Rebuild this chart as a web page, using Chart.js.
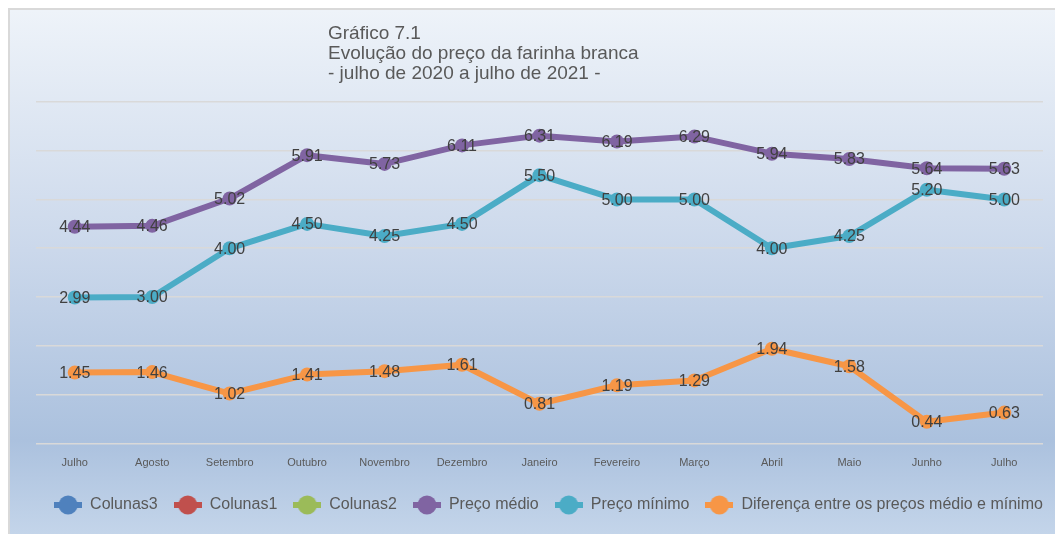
<!DOCTYPE html>
<html><head><meta charset="utf-8">
<script src="https://cdn.jsdelivr.net/npm/chart.js@4"></script>
<style>
html,body{margin:0;padding:0;background:#fff;}
#wrap{position:relative;width:1055px;height:534px;overflow:hidden;}
#frame{position:absolute;left:8px;top:8px;width:1060px;height:540px;border-left:2px solid #d9d9d9;border-top:2px solid #d9d9d9;
  background:linear-gradient(to bottom,#eef3f9 0px,#cbd8eb 240px,#abc1de 430px,#c4d5ea 526px);}
#cw{position:absolute;left:0;top:0;width:1055px;height:534px;}
#title{position:absolute;left:328px;top:23px;font:19px/20px "Liberation Sans",Arial,sans-serif;color:#595959;white-space:nowrap;}
</style></head>
<body>
<div id="wrap">
  <div id="frame"></div>
  <div id="cw"><canvas id="c"></canvas></div>
  <div id="title">Gráfico 7.1<br>Evolução do preço da farinha branca<br>- julho de 2020 a julho de 2021 -</div>
</div>
<script>
const categories = ['Julho','Agosto','Setembro','Outubro','Novembro','Dezembro','Janeiro','Fevereiro','Março','Abril','Maio','Junho','Julho'];
const precoMedio = [4.44,4.46,5.02,5.91,5.73,6.11,6.31,6.19,6.29,5.94,5.83,5.64,5.63];
const precoMinimo = [2.99,3.00,4.00,4.50,4.25,4.50,5.50,5.00,5.00,4.00,4.25,5.20,5.00];
const diferenca = [1.45,1.46,1.02,1.41,1.48,1.61,0.81,1.19,1.29,1.94,1.58,0.44,0.63];
const seriesNames = ['Colunas3','Colunas1','Colunas2','Preço médio','Preço mínimo','Diferença entre os preços médio e mínimo'];
const seriesColors = ['#4F81BD','#C0504D','#9BBB59','#8064A2','#4BACC6','#F79646'];
const yTicks = [0,1,2,3,4,5,6,7];

const FONT = '"Liberation Sans", Arial, sans-serif';

function makeIcon(color){
  const c = document.createElement('canvas');
  c.width = 28; c.height = 20;
  const g = c.getContext('2d');
  g.fillStyle = color;
  g.fillRect(0, 7, 28, 6);
  g.beginPath(); g.arc(14, 10, 9.5, 0, Math.PI*2); g.fill();
  return c;
}
const icons = seriesColors.map(makeIcon);

const seriesData = [[],[],[],precoMedio,precoMinimo,diferenca];

const datasets = seriesNames.map((name,i)=>({
  label: name,
  data: seriesData[i],
  borderColor: seriesColors[i],
  backgroundColor: seriesColors[i],
  pointBackgroundColor: seriesColors[i],
  pointBorderColor: seriesColors[i],
  borderWidth: 6,
  pointRadius: 7,
  pointBorderWidth: 0,
  pointHoverRadius: 7,
  borderJoinStyle: 'round',
  borderCapStyle: 'round',
  tension: 0,
  fill: false
}));

const valueLabels = {
  id: 'valueLabels',
  afterDatasetsDraw(chart){
    const ctx = chart.ctx;
    ctx.save();
    ctx.font = '16px ' + FONT;
    ctx.fillStyle = '#404040';
    ctx.textAlign = 'center';
    ctx.textBaseline = 'middle';
    chart.data.datasets.forEach((ds,i)=>{
      const meta = chart.getDatasetMeta(i);
      if (meta.hidden) return;
      meta.data.forEach((pt,j)=>{
        ctx.fillText(Number(ds.data[j]).toFixed(2), pt.x, pt.y + 1);
      });
    });
    ctx.restore();
  }
};

const legendShift = {
  id: 'legendShift',
  afterLayout(chart){
    const l = chart.legend;
    if (l) { l.left += 27; l.right += 27; }
  }
};

new Chart(document.getElementById('c'), {
  type: 'line',
  data: { labels: categories, datasets },
  options: {
    responsive: true,
    maintainAspectRatio: false,
    animation: false,
    devicePixelRatio: 1,
    layout: { padding: { left: 0, right: 12, top: 102, bottom: 11 } },
    scales: {
      x: {
        type: 'category',
        offset: true,
        grid: { display: false, drawTicks: false },
        border: { display: false },
        ticks: { color: '#595959', font: { family: FONT, size: 11 }, padding: 13, maxRotation: 0, autoSkip: false },
        afterFit(scale){ scale.height = 37.7; }
      },
      y: {
        min: 0, max: 7,
        afterBuildTicks(scale){ scale.ticks = yTicks.map(v=>({value:v})); },
        grid: { color: '#d9d9d9', lineWidth: 1.6, drawTicks: false },
        border: { display: false },
        ticks: { display: false },
        afterFit(scale){ scale.width = 36; }
      }
    },
    plugins: {
      title: { display: false },
      tooltip: { enabled: false },
      legend: {
        position: 'bottom',
        align: 'center',
        labels: {
          usePointStyle: true,
          pointStyleWidth: 28,
          padding: 16,
          color: '#595959',
          font: { family: FONT, size: 16 },
          generateLabels(chart){
            const items = Chart.defaults.plugins.legend.labels.generateLabels(chart);
            items.forEach((it,i)=>{ it.pointStyle = icons[it.datasetIndex]; it.fontColor = '#595959'; });
            return items;
          }
        }
      }
    }
  },
  plugins: [valueLabels, legendShift]
});
</script>
</body></html>
